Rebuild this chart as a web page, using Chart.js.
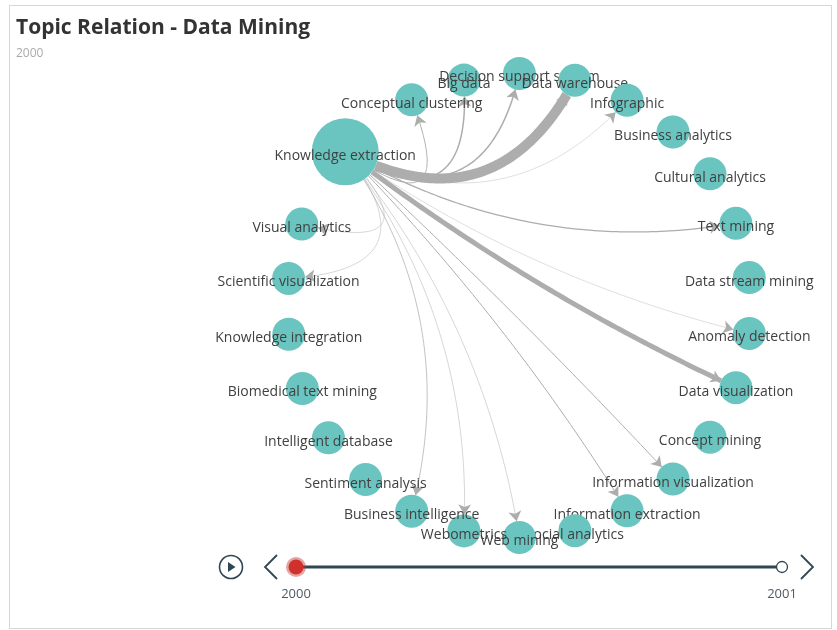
<!DOCTYPE html>
<html>
<head>
<meta charset="utf-8">
<title>Topic Relation - Data Mining</title>
<script src="https://cdn.jsdelivr.net/npm/chart.js@4.4.1/dist/chart.umd.min.js"></script>
<style>
    html, body { margin: 0; padding: 0; background: #fff; }
    #wrap { position: relative; width: 837px; height: 630px; overflow: hidden; }
    #frame { position: absolute; left: 9px; top: 5px; width: 821px; height: 622px; border: 1px solid #d6d6d6; }
    #title { position: absolute; left: 16px; top: 12px; font: bold 21px 'Open Sans', sans-serif; color: #333; white-space: nowrap; }
    #subtitle { position: absolute; left: 16px; top: 44px; font: 12px 'Open Sans', sans-serif; color: #aaa; }
    canvas { position: absolute; left: 0; top: 0; }
</style>
</head>
<body>
<div id="wrap">
    <div id="frame"></div>
    <canvas id="chart-topics" width="837" height="630"></canvas>
    <div id="title">Topic Relation - Data Mining</div>
    <div id="subtitle">2000</div>
</div>
<script>
// Topic graph, circular layout (order = data order, starts at 3 o'clock, clockwise)
const nodeNames = [
    'Anomaly detection', 'Data visualization', 'Concept mining', 'Information visualization',
    'Information extraction', 'Social analytics', 'Web mining', 'Webometrics',
    'Business intelligence', 'Sentiment analysis', 'Intelligent database', 'Biomedical text mining',
    'Knowledge integration', 'Scientific visualization', 'Visual analytics', 'Knowledge extraction',
    'Conceptual clustering', 'Big data', 'Decision support system', 'Data warehouse',
    'Infographic', 'Business analytics', 'Cultural analytics', 'Text mining', 'Data stream mining'
];
const nodeSizes = [
    33, 33, 33, 33,
    33, 33, 33, 33,
    33, 33, 33, 33,
    33, 33, 33, 67,
    33, 33, 33, 33,
    33, 33, 33, 33, 33
];

// links out of the main topic
const edgeSource = 'Knowledge extraction';
const edgeTargets = [
    'Conceptual clustering', 'Big data', 'Decision support system', 'Data warehouse',
    'Infographic', 'Text mining', 'Anomaly detection', 'Data visualization',
    'Information visualization', 'Information extraction', 'Web mining', 'Webometrics',
    'Business intelligence', 'Scientific visualization', 'Visual analytics'
];
const edgeWeights = [2, 3, 3, 20, 0.8, 2.5, 0.8, 10, 2, 2, 1, 1, 1.5, 1, 1];

const years = ['2000', '2001'];
const currentYear = '2000';

// layout / look
const CX = 519, CY = 305.5, RADIUS = 232;
const W = 837, H = 630;
const CURVE = 0.6;
const NODE_COLOR = '#6ac4bf';
const EDGE_COLOR = '#adadad';
const TL_COLOR = '#304654';

// angle of each node is proportional to its symbol size
function circularLayout(sizes) {
    const total = sizes.reduce((a, b) => a + b, 0);
    let acc = 0;
    return sizes.map(s => {
        const angle = (acc + s / 2) / total * Math.PI * 2;
        acc += s;
        return { x: Math.cos(angle), y: Math.sin(angle), r: s / 2 };
    });
}

function drawArrow(ctx, tip, dir, len, half) {
    const bx = -dir.x, by = -dir.y;
    const nx = -dir.y, ny = dir.x;
    ctx.beginPath();
    ctx.moveTo(tip.x, tip.y);
    ctx.lineTo(tip.x + bx * len + nx * half, tip.y + by * len + ny * half);
    ctx.lineTo(tip.x + bx * len * 0.75, tip.y + by * len * 0.75);
    ctx.lineTo(tip.x + bx * len - nx * half, tip.y + by * len - ny * half);
    ctx.closePath();
    ctx.fill();
}

const graphPlugin = {
    id: 'graph',
    beforeDatasetsDraw(chart) {
        const ctx = chart.ctx;
        const meta = chart.getDatasetMeta(0);
        const c = { x: chart.scales.x.getPixelForValue(0), y: chart.scales.y.getPixelForValue(0) };
        const si = nodeNames.indexOf(edgeSource);
        const a = meta.data[si];
        const ra = nodeSizes[si] / 2;
        ctx.save();
        ctx.strokeStyle = EDGE_COLOR;
        ctx.fillStyle = EDGE_COLOR;
        edgeTargets.forEach((name, k) => {
            const ti = nodeNames.indexOf(name);
            const b = meta.data[ti];
            const rb = nodeSizes[ti] / 2;
            const p0 = { x: a.x, y: a.y }, p2 = { x: b.x, y: b.y };
            const cp = {
                x: c.x * CURVE + (p0.x + p2.x) / 2 * (1 - CURVE),
                y: c.y * CURVE + (p0.y + p2.y) / 2 * (1 - CURVE)
            };
            const at = t => ({
                x: (1 - t) * (1 - t) * p0.x + 2 * t * (1 - t) * cp.x + t * t * p2.x,
                y: (1 - t) * (1 - t) * p0.y + 2 * t * (1 - t) * cp.y + t * t * p2.y
            });
            const dist = (p, q) => Math.hypot(p.x - q.x, p.y - q.y);
            // clip curve at both node borders
            let lo = 0, hi = 0.5;
            for (let i = 0; i < 30; i++) {
                const m = (lo + hi) / 2;
                if (dist(at(m), p0) < ra) lo = m; else hi = m;
            }
            const t0 = hi;
            lo = 0.5; hi = 1;
            for (let i = 0; i < 30; i++) {
                const m = (lo + hi) / 2;
                if (dist(at(m), p2) > rb) lo = m; else hi = m;
            }
            const t1 = lo;
            ctx.lineWidth = edgeWeights[k] * 0.5;
            ctx.beginPath();
            const steps = 80;
            for (let i = 0; i <= steps; i++) {
                const p = at(t0 + (t1 - t0) * i / steps);
                if (i === 0) ctx.moveTo(p.x, p.y); else ctx.lineTo(p.x, p.y);
            }
            ctx.stroke();
            const dx = 2 * (1 - t1) * (cp.x - p0.x) + 2 * t1 * (p2.x - cp.x);
            const dy = 2 * (1 - t1) * (cp.y - p0.y) + 2 * t1 * (p2.y - cp.y);
            const dl = Math.hypot(dx, dy);
            drawArrow(ctx, at(t1), { x: dx / dl, y: dy / dl }, 10, 6.5);
        });
        ctx.restore();
    },
    beforeDatasetDraw() {
        // nodes are drawn together with their labels below
        return false;
    },
    afterDatasetsDraw(chart) {
        const ctx = chart.ctx;
        const meta = chart.getDatasetMeta(0);
        meta.data.forEach((el, i) => {
            el.draw(ctx, chart.chartArea);
            ctx.save();
            ctx.font = "14px 'Open Sans', sans-serif";
            ctx.fillStyle = '#404040';
            ctx.textAlign = 'center';
            ctx.textBaseline = 'middle';
            ctx.fillText(nodeNames[i], el.x, el.y + 4);
            ctx.restore();
        });
    },
    afterDraw(chart) {
        // timeline control
        const ctx = chart.ctx;
        const y = 567;
        const x0 = 296, x1 = 782;
        ctx.save();
        ctx.strokeStyle = TL_COLOR;
        ctx.fillStyle = TL_COLOR;
        // play button
        ctx.lineWidth = 1.6;
        ctx.beginPath();
        ctx.arc(231, y, 11.5, 0, Math.PI * 2);
        ctx.stroke();
        ctx.beginPath();
        ctx.moveTo(228, y - 5);
        ctx.lineTo(235.5, y);
        ctx.lineTo(228, y + 5);
        ctx.closePath();
        ctx.fill();
        // prev / next
        ctx.lineWidth = 1.8;
        ctx.beginPath();
        ctx.moveTo(277, y - 12);
        ctx.lineTo(265, y);
        ctx.lineTo(277, y + 12);
        ctx.stroke();
        ctx.beginPath();
        ctx.moveTo(801, y - 12);
        ctx.lineTo(813, y);
        ctx.lineTo(801, y + 12);
        ctx.stroke();
        // axis line
        ctx.lineWidth = 3;
        ctx.beginPath();
        ctx.moveTo(x0, y);
        ctx.lineTo(x1, y);
        ctx.stroke();
        years.forEach((yr, i) => {
            const x = x0 + (x1 - x0) * i / (years.length - 1);
            if (yr === currentYear) {
                ctx.fillStyle = 'rgba(194, 53, 49, 0.45)';
                ctx.beginPath();
                ctx.arc(x, y, 10, 0, Math.PI * 2);
                ctx.fill();
                ctx.fillStyle = '#d0312d';
                ctx.beginPath();
                ctx.arc(x, y, 7.5, 0, Math.PI * 2);
                ctx.fill();
            } else {
                ctx.fillStyle = '#fff';
                ctx.lineWidth = 1.3;
                ctx.beginPath();
                ctx.arc(x, y, 5.5, 0, Math.PI * 2);
                ctx.fill();
                ctx.stroke();
            }
            ctx.fillStyle = '#4f5a65';
            ctx.font = "13px 'Open Sans', sans-serif";
            ctx.textAlign = 'center';
            ctx.textBaseline = 'middle';
            ctx.fillText(yr, x, y + 27);
        });
        ctx.restore();
    }
};

document.addEventListener('DOMContentLoaded', () => {
    const ctxEl = document.getElementById('chart-topics');
    new Chart(ctxEl, {
        type: 'bubble',
        data: {
            datasets: [{
                label: 'Topics',
                data: circularLayout(nodeSizes),
                backgroundColor: NODE_COLOR,
                borderWidth: 0,
                hoverRadius: 0
            }]
        },
        options: {
            responsive: false,
            animation: false,
            events: [],
            layout: { padding: 0, autoPadding: false },
            plugins: {
                legend: { display: false },
                tooltip: { enabled: false }
            },
            scales: {
                x: { type: 'linear', display: false, min: -CX / RADIUS, max: (W - CX) / RADIUS },
                y: { type: 'linear', display: false, reverse: true, min: -CY / RADIUS, max: (H - CY) / RADIUS }
            }
        },
        plugins: [graphPlugin]
    });
});
</script>
</body>
</html>
